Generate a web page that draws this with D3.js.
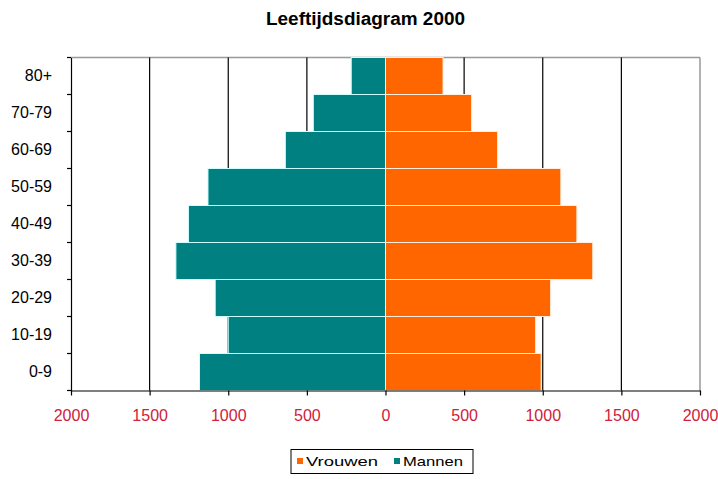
<!DOCTYPE html>
<html>
<head>
<meta charset="utf-8">
<script src="https://cdn.jsdelivr.net/npm/d3@7"></script>
<style>
  body { margin: 0; background: #fff; }
  svg { display: block; }
</style>
</head>
<body>
<svg id="chart" width="718" height="479"></svg>
<script>
const categories = ["80+", "70-79", "60-69", "50-59", "40-49", "30-39", "20-29", "10-19", "0-9"];
const mannen  = [218, 459, 637, 1129, 1253, 1333, 1083, 1000, 1183];
const vrouwen = [366, 548, 713, 1115, 1217, 1318, 1050, 955, 990];
const xTicks = [-2000, -1500, -1000, -500, 0, 500, 1000, 1500, 2000];
const seriesNames = ["Vrouwen", "Mannen"];
const colors = { Vrouwen: "#ff6600", Mannen: "#008080" };

const svg = d3.select("#chart");
const pLeft = 71, pRight = 700, pTop = 57.5, pBottom = 390.5;
const FONT = "'Liberation Sans', Arial, sans-serif";

const x = d3.scaleLinear().domain([-2000, 2000]).range([pLeft, pRight]);
const y = d3.scaleBand().domain(categories).range([pTop, pBottom]).padding(0);

// Title
svg.append("text")
  .attr("x", 266).attr("y", 25)
  .attr("textLength", 199).attr("lengthAdjust", "spacingAndGlyphs")
  .style("font-family", FONT)
  .style("font-weight", "bold")
  .style("font-size", "18px")
  .text("Leeftijdsdiagram 2000");

// Plot border (top, right) grey
svg.append("line").attr("x1", pLeft).attr("x2", pRight).attr("y1", pTop).attr("y2", pTop)
  .attr("stroke", "#999").attr("stroke-width", 1.5);
svg.append("line").attr("x1", pRight).attr("x2", pRight).attr("y1", pTop).attr("y2", pBottom)
  .attr("stroke", "#999").attr("stroke-width", 1.5);

// Gridlines
svg.append("g").selectAll("line")
  .data(xTicks.filter(d => d !== 0 && Math.abs(d) !== 2000))
  .join("line")
  .attr("x1", d => x(d)).attr("x2", d => x(d))
  .attr("y1", pTop).attr("y2", pBottom)
  .attr("stroke", "#000").attr("stroke-width", 1.2);

// Bars
const rows = categories.map((c, i) => ({ cat: c, m: mannen[i], v: vrouwen[i] }));
svg.append("g").selectAll("rect")
  .data(rows)
  .join("rect")
  .attr("x", d => x(-d.m))
  .attr("y", d => y(d.cat))
  .attr("width", d => x(0) - x(-d.m))
  .attr("height", y.bandwidth())
  .attr("fill", colors.Mannen)
  .attr("stroke", "#ccffff").attr("stroke-width", 1);
svg.append("g").selectAll("rect")
  .data(rows)
  .join("rect")
  .attr("x", x(0))
  .attr("y", d => y(d.cat))
  .attr("width", d => x(d.v) - x(0))
  .attr("height", y.bandwidth())
  .attr("fill", colors.Vrouwen)
  .attr("stroke", "#ffeedd").attr("stroke-width", 1);

// Y axis
const yAxis = svg.append("g")
  .attr("transform", `translate(${pLeft},0)`)
  .call(d3.axisLeft(y).tickSize(4).tickPadding(15).tickSizeOuter(0));
yAxis.select(".domain").attr("stroke", "#000").attr("stroke-width", 1.2);
yAxis.selectAll(".tick line").remove();
yAxis.selectAll("line.bnd")
  .data(d3.range(categories.length + 1))
  .join("line").attr("class", "bnd")
  .attr("x1", -4).attr("x2", 0)
  .attr("y1", i => pTop + i * y.step()).attr("y2", i => pTop + i * y.step())
  .attr("stroke", "#000").attr("stroke-width", 1.2);
yAxis.selectAll("text")
  .style("font-family", FONT)
  .style("font-size", "16px")
  .attr("fill", "#000");

// X axis
const xAxis = svg.append("g")
  .attr("transform", `translate(0,${pBottom})`)
  .call(d3.axisBottom(x).tickValues(xTicks).tickSize(5).tickPadding(14)
    .tickSizeOuter(0).tickFormat(d => Math.abs(d)));
xAxis.select(".domain").attr("stroke", "#000").attr("stroke-width", 1.2);
xAxis.selectAll(".tick line").attr("stroke", "#000").attr("stroke-width", 1.2);
xAxis.selectAll("text")
  .style("font-family", FONT)
  .style("font-size", "16px")
  .attr("fill", "#d0203a");

// Legend
const lg = svg.append("g");
lg.append("rect").attr("x", 291).attr("y", 449.5).attr("width", 182).attr("height", 24)
  .attr("fill", "#fff").attr("stroke", "#000").attr("stroke-width", 1);
const legendPos = [
  { name: seriesNames[0], x: 297, len: 72 },
  { name: seriesNames[1], x: 394, len: 60 }
];
legendPos.forEach(p => {
  lg.append("rect").attr("x", p.x).attr("y", 458).attr("width", 6).attr("height", 6)
    .attr("fill", colors[p.name]);
  lg.append("text").attr("x", p.x + 9).attr("y", 466)
    .attr("textLength", p.len).attr("lengthAdjust", "spacingAndGlyphs")
    .style("font-family", FONT)
    .style("font-size", "13px")
    .text(p.name);
});
</script>
</body>
</html>
